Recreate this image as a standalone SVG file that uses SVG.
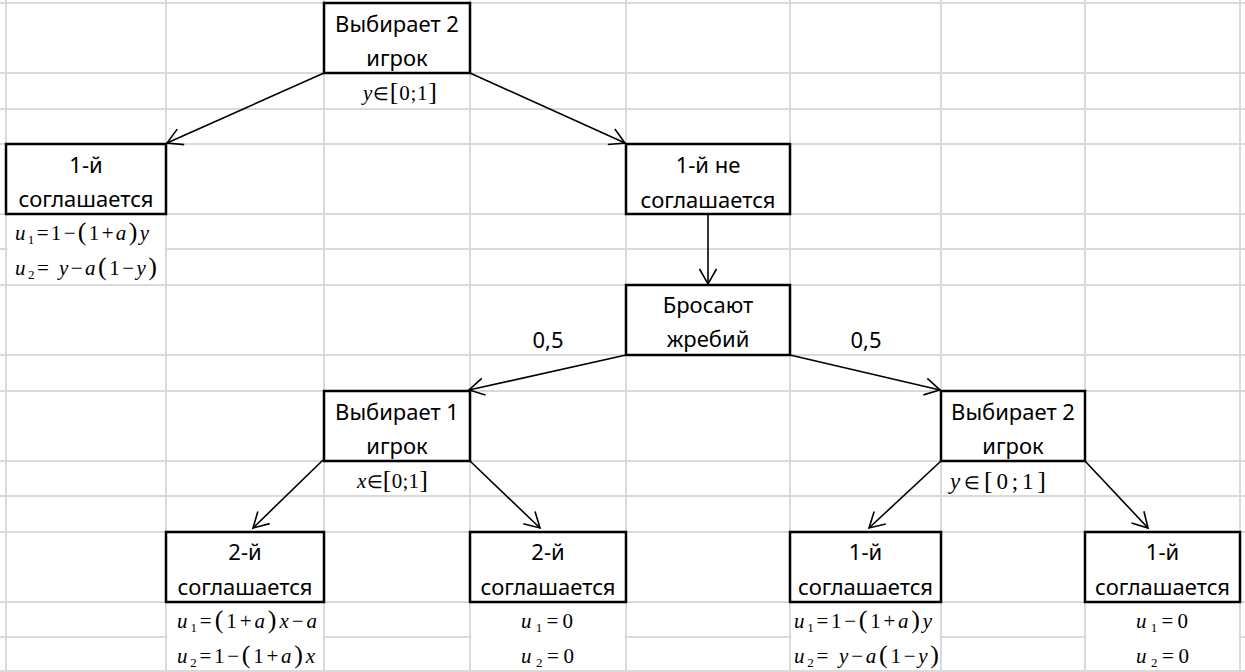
<svg xmlns="http://www.w3.org/2000/svg" width="1245" height="672" viewBox="0 0 1245 672">
<style>
.grid line{stroke:#dadada;stroke-width:2}
.mask{fill:#fff}
.box{fill:#fff;stroke:#000;stroke-width:2.5}
.lbl{font-family:"Noto Sans","Open Sans",sans-serif;font-size:22px;text-anchor:middle;fill:#000}
.f{font-family:"Liberation Serif","Times New Roman",serif;font-size:21px;fill:#000}
.i{font-style:italic}
.s{font-size:13px}
.p{font-size:26px}
.e{font-size:18px}
.big{font-size:23px}
.conn line{stroke:#000;stroke-width:1.6;marker-end:url(#ah)}
</style>
<defs>
<marker id="ah" markerUnits="userSpaceOnUse" markerWidth="40" markerHeight="40" viewBox="-20 -20 40 40" refX="0" refY="0" orient="auto">
<path d="M-15,-8.5 L0,0 L-15,8.5" fill="none" stroke="#000" stroke-width="1.6"/>
</marker>
</defs>
<rect width="1245" height="672" fill="#fff"/>
<g class="grid">
<line x1="0" y1="3" x2="1245" y2="3"/>
<line x1="0" y1="73" x2="1245" y2="73"/>
<line x1="0" y1="109" x2="1245" y2="109"/>
<line x1="0" y1="144" x2="1245" y2="144"/>
<line x1="0" y1="214" x2="1245" y2="214"/>
<line x1="0" y1="249" x2="1245" y2="249"/>
<line x1="0" y1="285" x2="1245" y2="285"/>
<line x1="0" y1="355" x2="1245" y2="355"/>
<line x1="0" y1="391" x2="1245" y2="391"/>
<line x1="0" y1="461" x2="1245" y2="461"/>
<line x1="0" y1="496" x2="1245" y2="496"/>
<line x1="0" y1="532" x2="1245" y2="532"/>
<line x1="0" y1="602" x2="1245" y2="602"/>
<line x1="0" y1="637" x2="1245" y2="637"/>
<line x1="0" y1="671" x2="1245" y2="671"/>
<line x1="6" y1="0" x2="6" y2="672"/>
<line x1="166" y1="0" x2="166" y2="672"/>
<line x1="324" y1="0" x2="324" y2="672"/>
<line x1="470" y1="0" x2="470" y2="672"/>
<line x1="626" y1="0" x2="626" y2="672"/>
<line x1="790" y1="0" x2="790" y2="672"/>
<line x1="941" y1="0" x2="941" y2="672"/>
<line x1="1085" y1="0" x2="1085" y2="672"/>
<line x1="1240" y1="0" x2="1240" y2="672"/>
</g>
<g id="masks">
<rect class="mask" x="7.5" y="215.5" width="157" height="68"/>
<rect class="mask" x="167.5" y="603.5" width="155" height="66.5"/>
<rect class="mask" x="471.5" y="603.5" width="153" height="66.5"/>
<rect class="mask" x="791.5" y="603.5" width="148" height="66.5"/>
<rect class="mask" x="1086.5" y="603.5" width="152" height="66.5"/>
</g>
<g id="connectors" class="conn">
<line x1="324" y1="73" x2="167" y2="143"/>
<line x1="470" y1="73" x2="625" y2="143"/>
<line x1="708" y1="214" x2="708" y2="284"/>
<line x1="626" y1="355" x2="469" y2="390"/>
<line x1="790" y1="355" x2="940" y2="390"/>
<line x1="323" y1="460" x2="253" y2="528"/>
<line x1="470" y1="461" x2="540" y2="528"/>
<line x1="941" y1="461" x2="869" y2="528"/>
<line x1="1085" y1="461" x2="1148" y2="528"/>
</g>
<g id="n-top">
<rect class="box" x="324" y="3" width="146" height="70"/>
<text class="lbl" x="397" y="32">Выбирает 2</text>
<text class="lbl" x="397" y="66">игрок</text>
<text class="f" x="363" y="100" textLength="74"><tspan class="i">y</tspan><tspan class="e">∈</tspan><tspan class="p">[</tspan>0;1<tspan class="p">]</tspan></text>
</g>
<g id="n-agree1">
<rect class="box" x="6" y="144" width="160" height="70"/>
<text class="lbl" x="86" y="173">1-й</text>
<text class="lbl" x="86" y="207">соглашается</text>
<text class="f" x="15" y="240" textLength="134"><tspan class="i">u</tspan><tspan class="s" dy="4">1</tspan><tspan dy="-4">=1−</tspan><tspan class="p">(</tspan>1+<tspan class="i">a</tspan><tspan class="p">)</tspan><tspan class="i">y</tspan></text>
<text class="f" x="15" y="275" textLength="142"><tspan class="i">u</tspan><tspan class="s" dy="4">2</tspan><tspan dy="-4">= </tspan><tspan class="i">y</tspan>−<tspan class="i">a</tspan><tspan class="p">(</tspan>1−<tspan class="i">y</tspan><tspan class="p">)</tspan></text>
</g>
<g id="n-disagree1">
<rect class="box" x="626" y="144" width="164" height="70"/>
<text class="lbl" x="708" y="173">1-й не</text>
<text class="lbl" x="708" y="208">соглашается</text>
</g>
<g id="n-lot">
<rect class="box" x="626" y="285" width="164" height="70"/>
<text class="lbl" x="708" y="313">Бросают</text>
<text class="lbl" x="708" y="347">жребий</text>
</g>
<g id="p-left">
<text class="lbl" x="548" y="348">0,5</text>
</g>
<g id="p-right">
<text class="lbl" x="866" y="348">0,5</text>
</g>
<g id="n-choose1">
<rect class="box" x="324" y="391" width="146" height="70"/>
<text class="lbl" x="397" y="420">Выбирает 1</text>
<text class="lbl" x="397" y="454">игрок</text>
<text class="f" x="357" y="488" textLength="71"><tspan class="i">x</tspan><tspan class="e">∈</tspan><tspan class="p">[</tspan>0;1<tspan class="p">]</tspan></text>
</g>
<g id="n-choose2">
<rect class="box" x="941" y="391" width="144" height="70"/>
<text class="lbl" x="1013" y="420">Выбирает 2</text>
<text class="lbl" x="1013" y="454">игрок</text>
<text class="f big" x="950" y="489" textLength="96"><tspan class="i">y</tspan><tspan class="e">∈</tspan><tspan class="p">[</tspan>0;1<tspan class="p">]</tspan></text>
</g>
<g id="n-agree2a">
<rect class="box" x="166" y="532" width="158" height="70"/>
<text class="lbl" x="245" y="560">2-й</text>
<text class="lbl" x="245" y="595">соглашается</text>
<text class="f" x="177" y="628" textLength="140"><tspan class="i">u</tspan><tspan class="s" dy="4">1</tspan><tspan dy="-4">=</tspan><tspan class="p">(</tspan>1+<tspan class="i">a</tspan><tspan class="p">)</tspan><tspan class="i">x</tspan>−<tspan class="i">a</tspan></text>
<text class="f" x="177" y="663" textLength="138"><tspan class="i">u</tspan><tspan class="s" dy="4">2</tspan><tspan dy="-4">=1−</tspan><tspan class="p">(</tspan>1+<tspan class="i">a</tspan><tspan class="p">)</tspan><tspan class="i">x</tspan></text>
</g>
<g id="n-agree2b">
<rect class="box" x="470" y="532" width="156" height="70"/>
<text class="lbl" x="548" y="560">2-й</text>
<text class="lbl" x="548" y="595">соглашается</text>
<text class="f" x="521" y="628" textLength="52"><tspan class="i">u</tspan><tspan class="s" dy="4">1</tspan><tspan dy="-4">=0</tspan></text>
<text class="f" x="521" y="663" textLength="53"><tspan class="i">u</tspan><tspan class="s" dy="4">2</tspan><tspan dy="-4">=0</tspan></text>
</g>
<g id="n-agree1a">
<rect class="box" x="790" y="532" width="151" height="70"/>
<text class="lbl" x="865.5" y="560">1-й</text>
<text class="lbl" x="865.5" y="595">соглашается</text>
<text class="f" x="794" y="628" textLength="138"><tspan class="i">u</tspan><tspan class="s" dy="4">1</tspan><tspan dy="-4">=1−</tspan><tspan class="p">(</tspan>1+<tspan class="i">a</tspan><tspan class="p">)</tspan><tspan class="i">y</tspan></text>
<text class="f" x="794" y="663" textLength="145"><tspan class="i">u</tspan><tspan class="s" dy="4">2</tspan><tspan dy="-4">= </tspan><tspan class="i">y</tspan>−<tspan class="i">a</tspan><tspan class="p">(</tspan>1−<tspan class="i">y</tspan><tspan class="p">)</tspan></text>
</g>
<g id="n-agree1b">
<rect class="box" x="1085" y="532" width="155" height="70"/>
<text class="lbl" x="1162.5" y="560">1-й</text>
<text class="lbl" x="1162.5" y="595">соглашается</text>
<text class="f" x="1136" y="628" textLength="52"><tspan class="i">u</tspan><tspan class="s" dy="4">1</tspan><tspan dy="-4">=0</tspan></text>
<text class="f" x="1136" y="663" textLength="53"><tspan class="i">u</tspan><tspan class="s" dy="4">2</tspan><tspan dy="-4">=0</tspan></text>
</g>
</svg>
